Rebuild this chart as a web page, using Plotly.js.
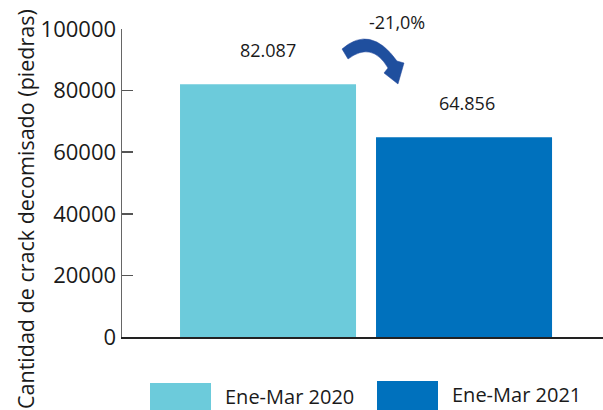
<!DOCTYPE html>
<html>
<head>
<meta charset="utf-8">
<script src="https://cdn.plot.ly/plotly-3.0.1.min.js"></script>
<style>html,body{margin:0;padding:0;background:#fff;}#chart{width:603px;height:410px;}</style>
</head>
<body>
<div id="chart"></div>
<script>
// ---- data ----
const categories = ["Ene-Mar 2020", "Ene-Mar 2021"];
const values = [82087, 64856];
const colors = ["#6ccbdb", "#0071bd"];
const yTickVals = [0, 20000, 40000, 60000, 80000, 100000];
const yTitle = "Cantidad de crack decomisado (piedras)";

// ---- helpers ----
const FONT = "Open Sans, Noto Sans, sans-serif";
const L = 122, T = 29, W = 603, H = 410, B = 73, R = 0;
const PW = W - L - R, PH = H - T - B;
const px = x => (x - L) / PW;
const py = y => (H - B - y) / PH;
const fmtThousands = v => String(v).replace(/\B(?=(\d{3})+(?!\d))/g, ".");
const pct = ((values[1] - values[0]) / values[0] * 100).toFixed(1).replace(".", ",") + "%";

const traces = categories.map((c, i) => ({
  type: "bar",
  x: [c],
  y: [values[i]],
  name: c,
  width: 0.898,
  marker: {color: colors[i]},
  hoverinfo: "skip"
}));

const annotations = categories.map((c, i) => ({
  x: c, y: values[i], xref: "x", yref: "y",
  text: fmtThousands(values[i]), showarrow: false,
  yanchor: "middle", yshift: 34, xshift: i === 1 ? 3 : 0,
  font: {family: FONT, size: 18, color: "#1a1a1a"}
}));

annotations.push({
  x: px(397), y: py(22), xref: "paper", yref: "paper",
  text: pct, showarrow: false, xanchor: "center", yanchor: "middle",
  font: {family: FONT, size: 18, color: "#1a1a1a"}
});

// y axis title (positioned like the original)
annotations.push({
  x: px(25), y: py(209), xref: "paper", yref: "paper",
  text: yTitle, textangle: -90, showarrow: false, borderpad: 0,
  xanchor: "center", yanchor: "middle",
  font: {family: FONT, size: 21.5, color: "#1a1a1a"}
});

// legend (large swatches)
const legendItems = [
  {sx0: 150, sx1: 211, sy0: 383, tx: 224, ty: 396},
  {sx0: 377, sx1: 438, sy0: 381, tx: 451, ty: 394}
];
const shapes = [];
legendItems.forEach((it, i) => {
  shapes.push({
    type: "rect", xref: "paper", yref: "paper",
    x0: px(it.sx0), x1: px(it.sx1), y0: py(412), y1: py(it.sy0),
    fillcolor: colors[i], line: {width: 0}
  });
  annotations.push({
    x: px(it.tx), y: py(it.ty), xref: "paper", yref: "paper",
    text: categories[i], showarrow: false, xanchor: "left", yanchor: "middle",
    borderpad: 0,
    font: {family: FONT, size: 20, color: "#1a1a1a"}
  });
});

// curved arrow
const P = (x, y) => px(x).toFixed(4) + "," + py(y).toFixed(4);
const arrowPath = "M" + P(342, 49) + " Q" + P(370.5, 24) + " " + P(397, 61) +
  " L" + P(404, 63) + " L" + P(398, 84) + " L" + P(384, 73) + " L" + P(388, 68) +
  " Q" + P(372, 41) + " " + P(348, 59) + " Z";
shapes.push({
  type: "path", xref: "paper", yref: "paper", path: arrowPath,
  fillcolor: "#1f4f9e", line: {color: "#22469a", width: 0.5}
});

const layout = {
  width: W, height: H,
  margin: {l: L, r: R, t: T, b: B, pad: 0},
  paper_bgcolor: "#fff", plot_bgcolor: "#fff",
  showlegend: false,
  barmode: "overlay",
  font: {family: FONT, size: 20, color: "#1a1a1a"},
  xaxis: {
    type: "category", range: [-0.745, 1.709],
    showticklabels: false, ticks: "", showgrid: false, zeroline: false,
    showline: true, linecolor: "#222", linewidth: 1.5, fixedrange: true
  },
  yaxis: {
    range: [0, 100000], tickvals: yTickVals, tickformat: "d",
    ticks: "inside", ticklen: 11, tickwidth: 1.5, tickcolor: "#555",
    showline: true, linecolor: "#666", linewidth: 1.5,
    showgrid: false, zeroline: false,
    tickfont: {family: FONT, size: 22, color: "#1a1a1a"}, fixedrange: true
  },
  annotations: annotations,
  shapes: shapes
};

Plotly.newPlot("chart", traces, layout, {displayModeBar: false, staticPlot: true});
</script>
</body>
</html>
